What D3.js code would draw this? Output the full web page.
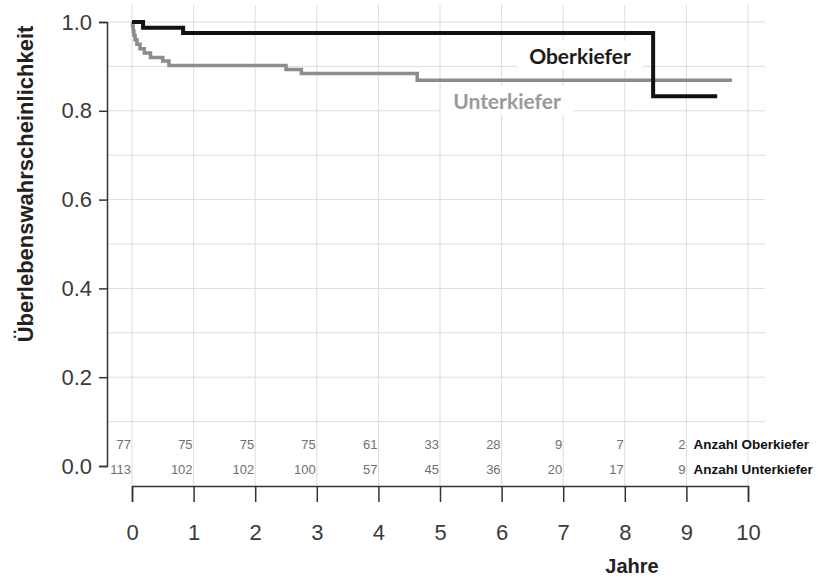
<!DOCTYPE html>
<html>
<head>
<meta charset="utf-8">
<script src="https://cdn.jsdelivr.net/npm/d3@7"></script>
<style>
  body { margin: 0; background: #fff; }
  text { font-family: "Liberation Sans", Arial, sans-serif; }
</style>
</head>
<body>
<div id="chart"></div>
<script>
// data
var years = [0, 1, 2, 3, 4, 5, 6, 7, 8, 9, 10];
var yTicks = [0, 0.2, 0.4, 0.6, 0.8, 1.0];
var gridY = [0.1, 0.2, 0.3, 0.4, 0.5, 0.6, 0.7, 0.8, 0.9, 1.0];

var oberTime = [0, 0.18, 0.83, 8.46, 9.5];
var oberSurv = [1.0, 0.987, 0.975, 0.833, 0.833];

var unterTime = [0, 0.01, 0.02, 0.03, 0.05, 0.08, 0.13, 0.2, 0.3, 0.5, 0.6, 2.5, 2.75, 4.63, 9.74];
var unterSurv = [1.0, 0.99, 0.98, 0.97, 0.96, 0.95, 0.94, 0.93, 0.92, 0.912, 0.902, 0.893, 0.884, 0.869, 0.869];

var riskYears = [0, 1, 2, 3, 4, 5, 6, 7, 8, 9];
var oberRisk = [77, 75, 75, 75, 61, 33, 28, 9, 7, 2];
var unterRisk = [113, 102, 102, 100, 57, 45, 36, 20, 17, 9];

var svgWidth = 818;
var svgHeight = 579;

var margin = { top: 22, right: 70, bottom: 113, left: 132 };
var width = svgWidth - margin.left - margin.right;   // 616
var height = svgHeight - margin.top - margin.bottom; // 444

var svg = d3.select("#chart")
    .append("svg")
    .attr("width", svgWidth)
    .attr("height", svgHeight);

var chartGroup = svg.append("g")
    .attr("transform", `translate(${margin.left}, ${margin.top})`);

var x = d3.scaleLinear().domain([0, 10]).range([0, width]);
var y = d3.scaleLinear().domain([0, 1]).range([height, 0]);

// grid
chartGroup.append("g").selectAll("line")
    .data(gridY)
    .enter()
    .append("line")
    .attr("x1", -24)
    .attr("x2", width + 17)
    .attr("y1", d => y(d))
    .attr("y2", d => y(d))
    .attr("stroke", "#dcdcdc")
    .attr("stroke-width", 1);

chartGroup.append("g").selectAll("line")
    .data(years)
    .enter()
    .append("line")
    .attr("x1", d => x(d))
    .attr("x2", d => x(d))
    .attr("y1", -17)
    .attr("y2", height + 20)
    .attr("stroke", "#dcdcdc")
    .attr("stroke-width", 1);

// y axis
var leftAxis = d3.axisLeft(y)
    .tickValues(yTicks)
    .tickFormat(d3.format(".1f"))
    .tickSize(8)
    .tickPadding(7);

var yAxisG = chartGroup.append("g")
    .attr("transform", "translate(-25, 0)")
    .call(leftAxis);
yAxisG.select(".domain").attr("stroke", "#333").attr("stroke-width", 1.5);
yAxisG.selectAll(".tick line").attr("stroke", "#333").attr("stroke-width", 1.5);
yAxisG.selectAll(".tick text")
    .attr("fill", "#3a3a3a")
    .style("font-size", "22px");

// x axis
var bottomAxis = d3.axisBottom(x)
    .tickValues(years)
    .tickSize(16)
    .tickPadding(22);

var xAxisG = chartGroup.append("g")
    .attr("transform", `translate(0, ${height + 20})`)
    .call(bottomAxis);
xAxisG.select(".domain").attr("stroke", "#333").attr("stroke-width", 1.5);
xAxisG.selectAll(".tick line").attr("stroke", "#333").attr("stroke-width", 1.5);
xAxisG.selectAll(".tick text")
    .attr("fill", "#3a3a3a")
    .style("font-size", "22px");

// survival curves
var stepLine = d3.line()
    .x(d => x(d[0]))
    .y(d => y(d[1]))
    .curve(d3.curveStepAfter);

var unterData = unterTime.map((t, i) => [t, unterSurv[i]]);
var oberData = oberTime.map((t, i) => [t, oberSurv[i]]);

// white boxes behind curve labels go under the curves
var labelBoxes = chartGroup.append("g");

chartGroup.append("path")
    .datum(unterData)
    .attr("d", stepLine)
    .attr("fill", "none")
    .attr("stroke", "#8c8c8c")
    .attr("stroke-width", 3.5);

chartGroup.append("path")
    .datum(oberData)
    .attr("d", stepLine)
    .attr("fill", "none")
    .attr("stroke", "#111")
    .attr("stroke-width", 4);

var labelTexts = chartGroup.append("g");

function curveLabel(txt, cx, baseY, color) {
    var t = labelTexts.append("text")
        .attr("x", cx)
        .attr("y", baseY)
        .attr("text-anchor", "middle")
        .style("font-family", "Lato, 'Open Sans', sans-serif")
        .style("font-weight", "bold")
        .style("font-size", "21px")
        .attr("fill", color)
        .text(txt);
    var bb = t.node().getBBox();
    labelBoxes.append("rect")
        .attr("x", bb.x - 12)
        .attr("y", bb.y - 2)
        .attr("width", bb.width + 24)
        .attr("height", bb.height + 4)
        .attr("fill", "#fff");
}
curveLabel("Oberkiefer", 580 - margin.left, 64 - margin.top, "#1a1a1a");
curveLabel("Unterkiefer", 507 - margin.left, 109 - margin.top, "#9a9a9a");

// numbers at risk
function riskRow(vals, baseY, label) {
    chartGroup.append("g").selectAll("text")
        .data(riskYears)
        .enter()
        .append("text")
        .attr("x", d => x(d) - 1)
        .attr("y", baseY)
        .attr("text-anchor", "end")
        .attr("fill", "#707070")
        .style("font-size", "13px")
        .text((d, i) => vals[i]);
    chartGroup.append("text")
        .attr("x", x(9) + 7)
        .attr("y", baseY)
        .attr("fill", "#111")
        .style("font-size", "13.5px")
        .style("font-weight", "bold")
        .text(label);
}
riskRow(oberRisk, 449 - margin.top, "Anzahl Oberkiefer");
riskRow(unterRisk, 474 - margin.top, "Anzahl Unterkiefer");

// axis titles
svg.append("text")
    .attr("transform", "translate(33, 184) rotate(-90)")
    .attr("text-anchor", "middle")
    .attr("fill", "#222")
    .style("font-size", "22px")
    .style("font-weight", "bold")
    .text("Überlebenswahrscheinlichkeit");

svg.append("text")
    .attr("x", 632)
    .attr("y", 573)
    .attr("text-anchor", "middle")
    .attr("fill", "#222")
    .style("font-size", "20px")
    .style("font-weight", "bold")
    .text("Jahre");
</script>
</body>
</html>
